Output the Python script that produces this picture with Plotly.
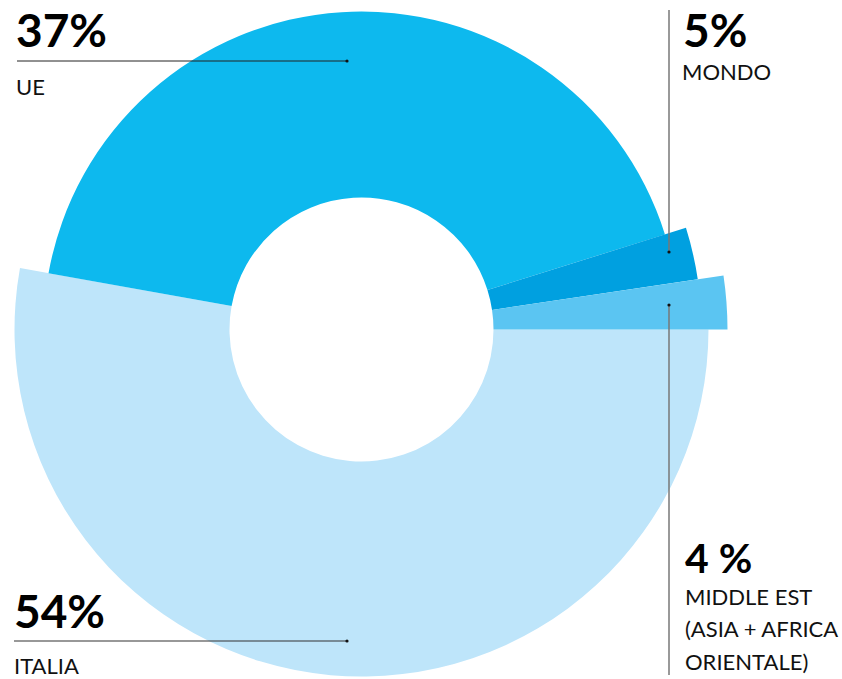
import plotly.graph_objects as go

# ---- data ----
categories = ["ITALIA", "UE", "MONDO", "MIDDLE EST"]
percent_labels = ["54%", "37%", "5%", "4 %"]
slice_start_deg = [169.8, 17.4, 8.5, 0.0]
slice_end_deg = [360.0, 169.8, 17.4, 8.5]
outer_radius = [347, 318, 340, 366]
inner_radius = 132
colors = ["#BEE5FA", "#0DB9EE", "#00A0E0", "#5BC5F2"]

W, H = 842, 679
CX, CY = 361.5, 329.5   # px, centre of the ring
R_AXIS = 318            # radial range maximum == pixel radius of polar area


def px(x):
    return x / W


def py(y):
    return 1 - y / H


fig = go.Figure()
for i, cat in enumerate(categories):
    width = slice_end_deg[i] - slice_start_deg[i]
    centre = (slice_end_deg[i] + slice_start_deg[i]) / 2
    fig.add_trace(go.Barpolar(
        r=[outer_radius[i] - inner_radius], base=[inner_radius],
        theta=[centre], width=[width], name=cat,
        marker=dict(color=colors[i], line=dict(width=0)),
        hoverinfo="name",
    ))

# helper trace: lets the polar front layer stay unclipped
fig.add_trace(go.Scatterpolar(r=[0], theta=[0], mode="markers",
                              marker=dict(size=1, opacity=0), cliponaxis=False,
                              hoverinfo="skip", showlegend=False))

fig.update_layout(
    width=W, height=H, margin=dict(l=0, r=0, t=0, b=0),
    paper_bgcolor="white", plot_bgcolor="white", showlegend=False,
    polar=dict(
        domain=dict(x=[px(CX - R_AXIS), px(CX + R_AXIS)],
                    y=[py(CY + R_AXIS), py(CY - R_AXIS)]),
        bgcolor="rgba(0,0,0,0)",
        radialaxis=dict(range=[0, R_AXIS], visible=False),
        angularaxis=dict(visible=False, direction="counterclockwise", rotation=0),
        barmode="overlay",
    ),
)

FONT = "Lato"
big = dict(family=FONT, size=46, color="black", weight="bold")
small = dict(family=FONT, size=22, color="#111")


def label(text, x, y, font):
    fig.add_annotation(text=text, x=px(x), y=py(y), xref="paper", yref="paper",
                       xanchor="left", yanchor="middle", showarrow=False, font=font)


label(percent_labels[1], 14, 30, big)
label("UE", 14, 87, small)
label(percent_labels[0], 12, 610, big)
label("ITALIA", 12, 665, small)
label(percent_labels[2], 681, 30, big)
label("MONDO", 680, 72, small)
label(percent_labels[3], 683, 557, dict(big, size=41))
small2 = dict(small, size=22)
label("MIDDLE EST", 683, 596, small2)
label("(ASIA + AFRICA", 683, 628, small2)
label("ORIENTALE)", 683, 661, small2)


def line(x0, y0, x1, y1, color, w):
    fig.add_shape(type="line", xref="paper", yref="paper",
                  x0=px(x0), y0=py(y0), x1=px(x1), y1=py(y1),
                  line=dict(color=color, width=w))


def dot(x, y):
    r = 1.6
    fig.add_shape(type="circle", xref="paper", yref="paper",
                  x0=px(x - r), x1=px(x + r), y0=py(y + r), y1=py(y - r),
                  fillcolor="#111", line=dict(width=0))


line(17, 61, 347, 61, "#222", 1)
dot(347, 61)
line(14, 641, 347, 641, "#333", 1.2)
dot(347, 641)
line(669, 10, 669, 252, "#777", 1.5)
dot(669, 252)
line(669, 305, 669, 675, "#777", 1.5)
dot(669, 305)

post = """
document.body.style.margin = '0';
document.body.style.overflow = 'hidden';
var gd = document.getElementsByClassName('plotly-graph-div')[0];
gd.querySelectorAll('.polarlayer [clip-path]').forEach(function(e){
  e.removeAttribute('clip-path'); e.style.clipPath = 'none';
});
"""
fig.write_html("out.html", post_script=post, config={"displayModeBar": False})
